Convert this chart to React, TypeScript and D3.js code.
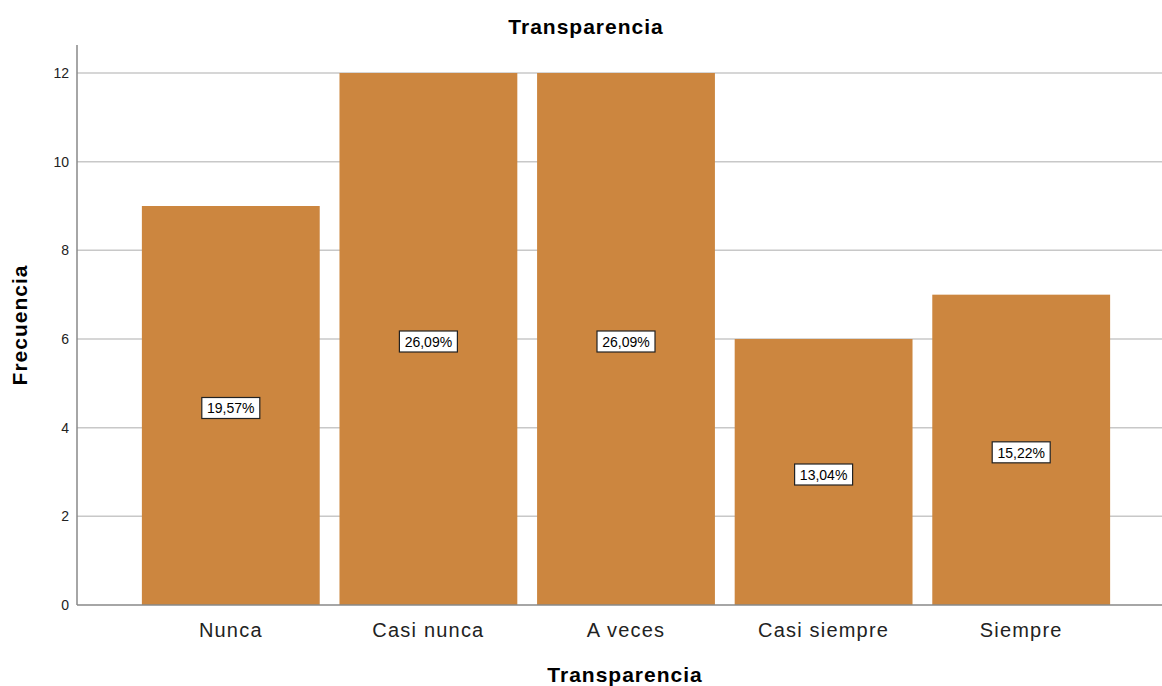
import React from 'react';
import * as d3 from 'd3';

const categories = ['Nunca', 'Casi nunca', 'A veces', 'Casi siempre', 'Siempre'];
const counts = [9, 12, 12, 6, 7];
const percents = ['19,57%', '26,09%', '26,09%', '13,04%', '15,22%'];
const yTicks = [0, 2, 4, 6, 8, 10, 12];

const W = 1162;
const H = 686;
const axisX = 77;
const bottom = 605;
const top = 73;

const App: React.FC = () => {
  const x = d3.scaleBand<string>().domain(categories).range([132, 1120]).paddingInner(0.1).paddingOuter(0.05);
  const y = d3.scaleLinear().domain([0, 12]).range([bottom, top]);
  const font = 'Arial, "Liberation Sans", sans-serif';

  return (
    <svg width={W} height={H} style={{ position: 'absolute', left: 0, top: 0 }} fontFamily={font}>
      <rect width={W} height={H} fill="#fff" />
      <text x={586} y={34} textAnchor="middle" fontSize={21} fontWeight="bold" letterSpacing={1} fill="#000">
        Transparencia
      </text>
      {yTicks.map((t) => (
        <g key={t}>
          {t > 0 && <line x1={axisX} x2={W} y1={y(t)} y2={y(t)} stroke="#c8c8c8" strokeWidth={1.5} />}
          <text x={69} y={y(t)} dy="0.35em" textAnchor="end" fontSize={14} fill="#222">
            {t}
          </text>
        </g>
      ))}
      {categories.map((c, i) => {
        const bx = x(c)!;
        const bw = x.bandwidth();
        const cy = y(counts[i] / 2) + 3;
        return (
          <g key={c}>
            <rect x={bx} y={y(counts[i])} width={bw} height={bottom - y(counts[i])} fill="#cc863f" />
            <rect x={bx + bw / 2 - 29} y={cy - 11} width={58} height={21} fill="#fff" stroke="#222" strokeWidth={1.2} />
            <text x={bx + bw / 2} y={cy} dy="0.35em" textAnchor="middle" fontSize={14} fill="#000">
              {percents[i]}
            </text>
            <text x={bx + bw / 2} y={637} textAnchor="middle" fontSize={20} letterSpacing={1.2} fill="#222">
              {c}
            </text>
          </g>
        );
      })}
      <line x1={axisX} x2={W} y1={bottom} y2={bottom} stroke="#888" strokeWidth={1.5} />
      <line x1={axisX} x2={axisX} y1={45} y2={bottom} stroke="#888" strokeWidth={1.5} />
      <text x={625} y={682} textAnchor="middle" fontSize={21} fontWeight="bold" letterSpacing={1} fill="#000">
        Transparencia
      </text>
      <text transform={`translate(27,325) rotate(-90)`} textAnchor="middle" fontSize={21} fontWeight="bold" letterSpacing={1} fill="#000">
        Frecuencia
      </text>
    </svg>
  );
};

export default App;
